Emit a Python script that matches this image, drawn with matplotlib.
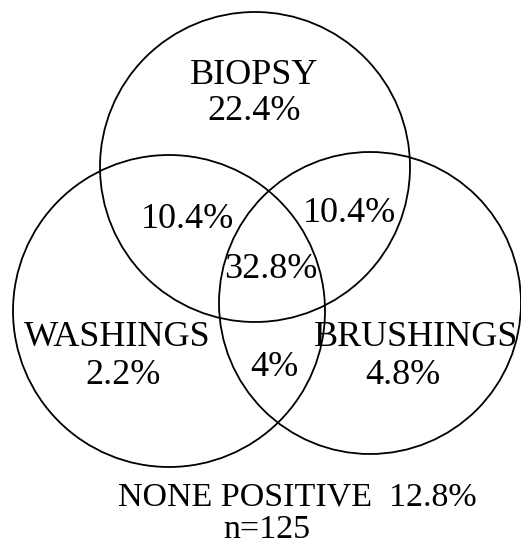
import matplotlib
matplotlib.use('Agg')
import matplotlib.pyplot as plt
from matplotlib.patches import Circle

# circle sets: name, centre (pixel coords), radius
set_names = ['BIOPSY', 'WASHINGS', 'BRUSHINGS']
set_centres = [(255, 167), (169, 311), (370, 303)]
set_radii = [155, 156, 151]

# labels and where they sit
labels = ['BIOPSY', '22.4%', '10.4%', '10.4%', '32.8%',
          'WASHINGS', '2.2%', '4%', 'BRUSHINGS', '4.8%']
label_pos = [(254, 72), (254, 108), (187, 215), (350, 210), (271, 266),
             (117, 334), (123, 371), (274, 363), (416, 334), (403, 372)]
footer = ['NONE POSITIVE  12.8%', 'n=125']
footer_pos = [(297, 494), (267, 526)]

plt.rcParams['font.family'] = ['Liberation Serif', 'DejaVu Serif']

fig = plt.figure(figsize=(5.21, 5.44), dpi=100)
ax = fig.add_axes([0, 0, 1, 1])
ax.set_xlim(0, 521)
ax.set_ylim(544, 0)
ax.axis('off')

for c, r in zip(set_centres, set_radii):
    ax.add_patch(Circle(c, r, fill=False, edgecolor='black', linewidth=1.3))

for lab, (x, y) in zip(labels, label_pos):
    ax.text(x, y, lab, ha='center', va='center_baseline', fontsize=26)

for lab, (x, y) in zip(footer, footer_pos):
    ax.text(x, y, lab, ha='center', va='center_baseline', fontsize=24.5)

fig.savefig('out.png', dpi=100)
